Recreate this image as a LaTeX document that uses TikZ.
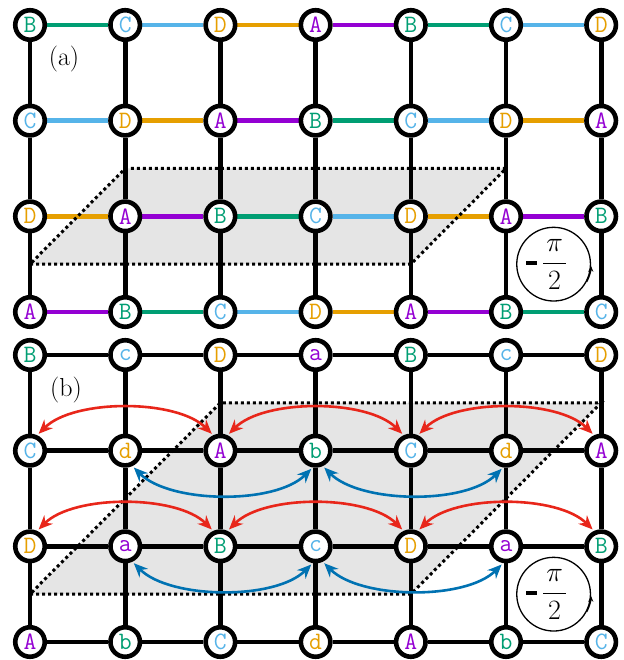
\RequirePackage{fix-cm}
\documentclass[tikz,border=0pt]{standalone}
\usetikzlibrary{arrows.meta,calc}
\definecolor{col0}{RGB}{148,0,211}
\definecolor{col1}{RGB}{0,158,115}
\definecolor{col2}{RGB}{86,180,233}
\definecolor{col3}{RGB}{230,159,0}
\definecolor{arrred}{RGB}{232,38,26}
\definecolor{arrblue}{RGB}{0,114,178}
\definecolor{shade}{RGB}{229,229,229}
\pgfdeclarelayer{bgfill}
\pgfdeclarelayer{bgedge}
\pgfsetlayers{bgfill,bgedge,main}
\newcommand\upL[1]{\ifcase#1 A\or B\or C\or D\fi}
\newcommand\loL[1]{\ifcase#1 a\or b\or c\or d\fi}
\begin{document}
\begin{tikzpicture}[x=1pt,y=1pt,
  vert/.style={circle,draw=black,fill=white,line width=4.6pt,minimum size=29.5pt,inner sep=0pt,font=\fontsize{25}{25}\selectfont\ttfamily},
  gridline/.style={line width=4.6pt,draw=black},
  dotborder/.style={line width=3pt,dash pattern=on 3pt off 3pt,draw=black},
  shaded/.style={fill=shade},
  redarr/.style={line width=2.6pt,draw=arrred,shorten <=2pt,shorten >=2pt,{Stealth[length=14pt,width=12pt,inset=4.5pt]}-{Stealth[length=14pt,width=12pt,inset=4.5pt]}},
  bluearr/.style={line width=2.6pt,draw=arrblue,shorten <=2pt,shorten >=2pt,{Stealth[length=14pt,width=12pt,inset=4.5pt]}-{Stealth[length=14pt,width=12pt,inset=4.5pt]}},
  phase/.style={circle,draw=black,line width=1.3pt,minimum size=73.7pt,inner sep=0pt},
  phasetext/.style={inner sep=0pt,font=\fontsize{28}{28}\selectfont},
  phasearrow/.style={line width=1.3pt,-{Stealth[length=6pt,width=5pt]}},
  panel/.style={inner sep=0pt,font=\fontsize{26}{26}\selectfont}
]
\useasboundingbox (0,0) rectangle (623,660);

% ---------- panel (a) nodes ----------
\foreach \rr in {0,...,3}{
  \foreach \cc in {0,...,6}{
    \pgfmathtruncatemacro\k{mod(1+\rr+\cc,4)}
    \node[vert,text=col\k] (a\rr\cc) at ({30+95.2*\cc},{660-25-95.67*\rr}) {\upL{\k}};
  }
}
% ---------- panel (b) nodes ----------
\foreach \rr in {0,...,3}{
  \foreach \cc in {0,...,6}{
    \pgfmathtruncatemacro\k{mod(1+\rr+\cc,4)}
    \pgfmathtruncatemacro\od{mod(\cc,2)}
    \node[vert,text=col\k] (b\rr\cc) at ({30+95.2*\cc},{660-355-95.67*\rr}) {\ifnum\od=1 \loL{\k}\else\upL{\k}\fi};
  }
}

% ---------- shaded parallelograms ----------
\coordinate (pa1) at ($(a20)!.5!(a30)$);
\coordinate (pa2) at ($(a24)!.5!(a34)$);
\coordinate (pa3) at ($(a15)!.5!(a25)$);
\coordinate (pa4) at ($(a11)!.5!(a21)$);
\coordinate (pb1) at ($(b20)!.5!(b30)$);
\coordinate (pb2) at ($(b24)!.5!(b34)$);
\coordinate (pb3) at ($(b06)!.5!(b16)$);
\coordinate (pb4) at ($(b02)!.5!(b12)$);
\begin{pgfonlayer}{bgfill}
  \fill[shaded] (pa1) -- (pa2) -- (pa3) -- (pa4) -- cycle;
  \fill[shaded] (pb1) -- (pb2) -- (pb3) -- (pb4) -- cycle;
\end{pgfonlayer}

% ---------- edges ----------
\begin{pgfonlayer}{bgedge}
  \foreach \rr in {0,...,3}{
    \foreach \cc in {1,...,6}{
      \pgfmathtruncatemacro\p{\cc-1}
      \pgfmathtruncatemacro\k{mod(1+\rr+\p,4)}
      \draw[gridline,draw=col\k] (a\rr\p) -- (a\rr\cc);
      \draw[gridline] (b\rr\p) -- (b\rr\cc);
    }
  }
  \foreach \rr in {1,2,3}{
    \pgfmathtruncatemacro\p{\rr-1}
    \foreach \cc in {0,...,6}{
      \draw[gridline] (a\p\cc) -- (a\rr\cc);
      \draw[gridline] (b\p\cc) -- (b\rr\cc);
    }
  }
  \draw[dotborder] (pa1) -- (pa2) -- (pa3) -- (pa4) -- cycle;
  \draw[dotborder] (pb1) -- (pb2) -- (pb3) -- (pb4) -- cycle;
\end{pgfonlayer}

% ---------- panel labels ----------
\node[panel] (la) at (64,600.5) {(a)};
\node[panel] (lb) at (66,270) {(b)};

% ---------- arrows ----------
\foreach \rr in {1,2}{
  \foreach \cl/\cr in {0/2,2/4,4/6}{
    \draw[redarr] (b\rr\cl.65) to[out=45,in=135,looseness=0.75] (b\rr\cr.115);
  }
  \foreach \cl/\cr in {1/3,3/5}{
    \draw[bluearr] (b\rr\cl.-65) to[out=-45,in=-135,looseness=0.75] (b\rr\cr.-100);
  }
}

% ---------- phase circles ----------
\node[phase] (ph1) at ($(a25)!.5!(a36)$) {};
\node[phasetext] (ph1t) at ([xshift=-7pt]ph1.center) {\rule[5.25pt]{11pt}{3.5pt}\hspace{5pt}$\displaystyle\frac{\mkern2mu\pi\mkern2mu}{2}$};
\draw[phasearrow] (ph1.-28) arc[start angle=-28,end angle=-2,radius=36.85pt];
\node[phase] (ph2) at ($(b25)!.5!(b36)$) {};
\node[phasetext] (ph2t) at ([xshift=-7pt]ph2.center) {\rule[5.25pt]{11pt}{3.5pt}\hspace{5pt}$\displaystyle\frac{\mkern2mu\pi\mkern2mu}{2}$};
\draw[phasearrow] (ph2.-28) arc[start angle=-28,end angle=-2,radius=36.85pt];
\end{tikzpicture}
\end{document}
